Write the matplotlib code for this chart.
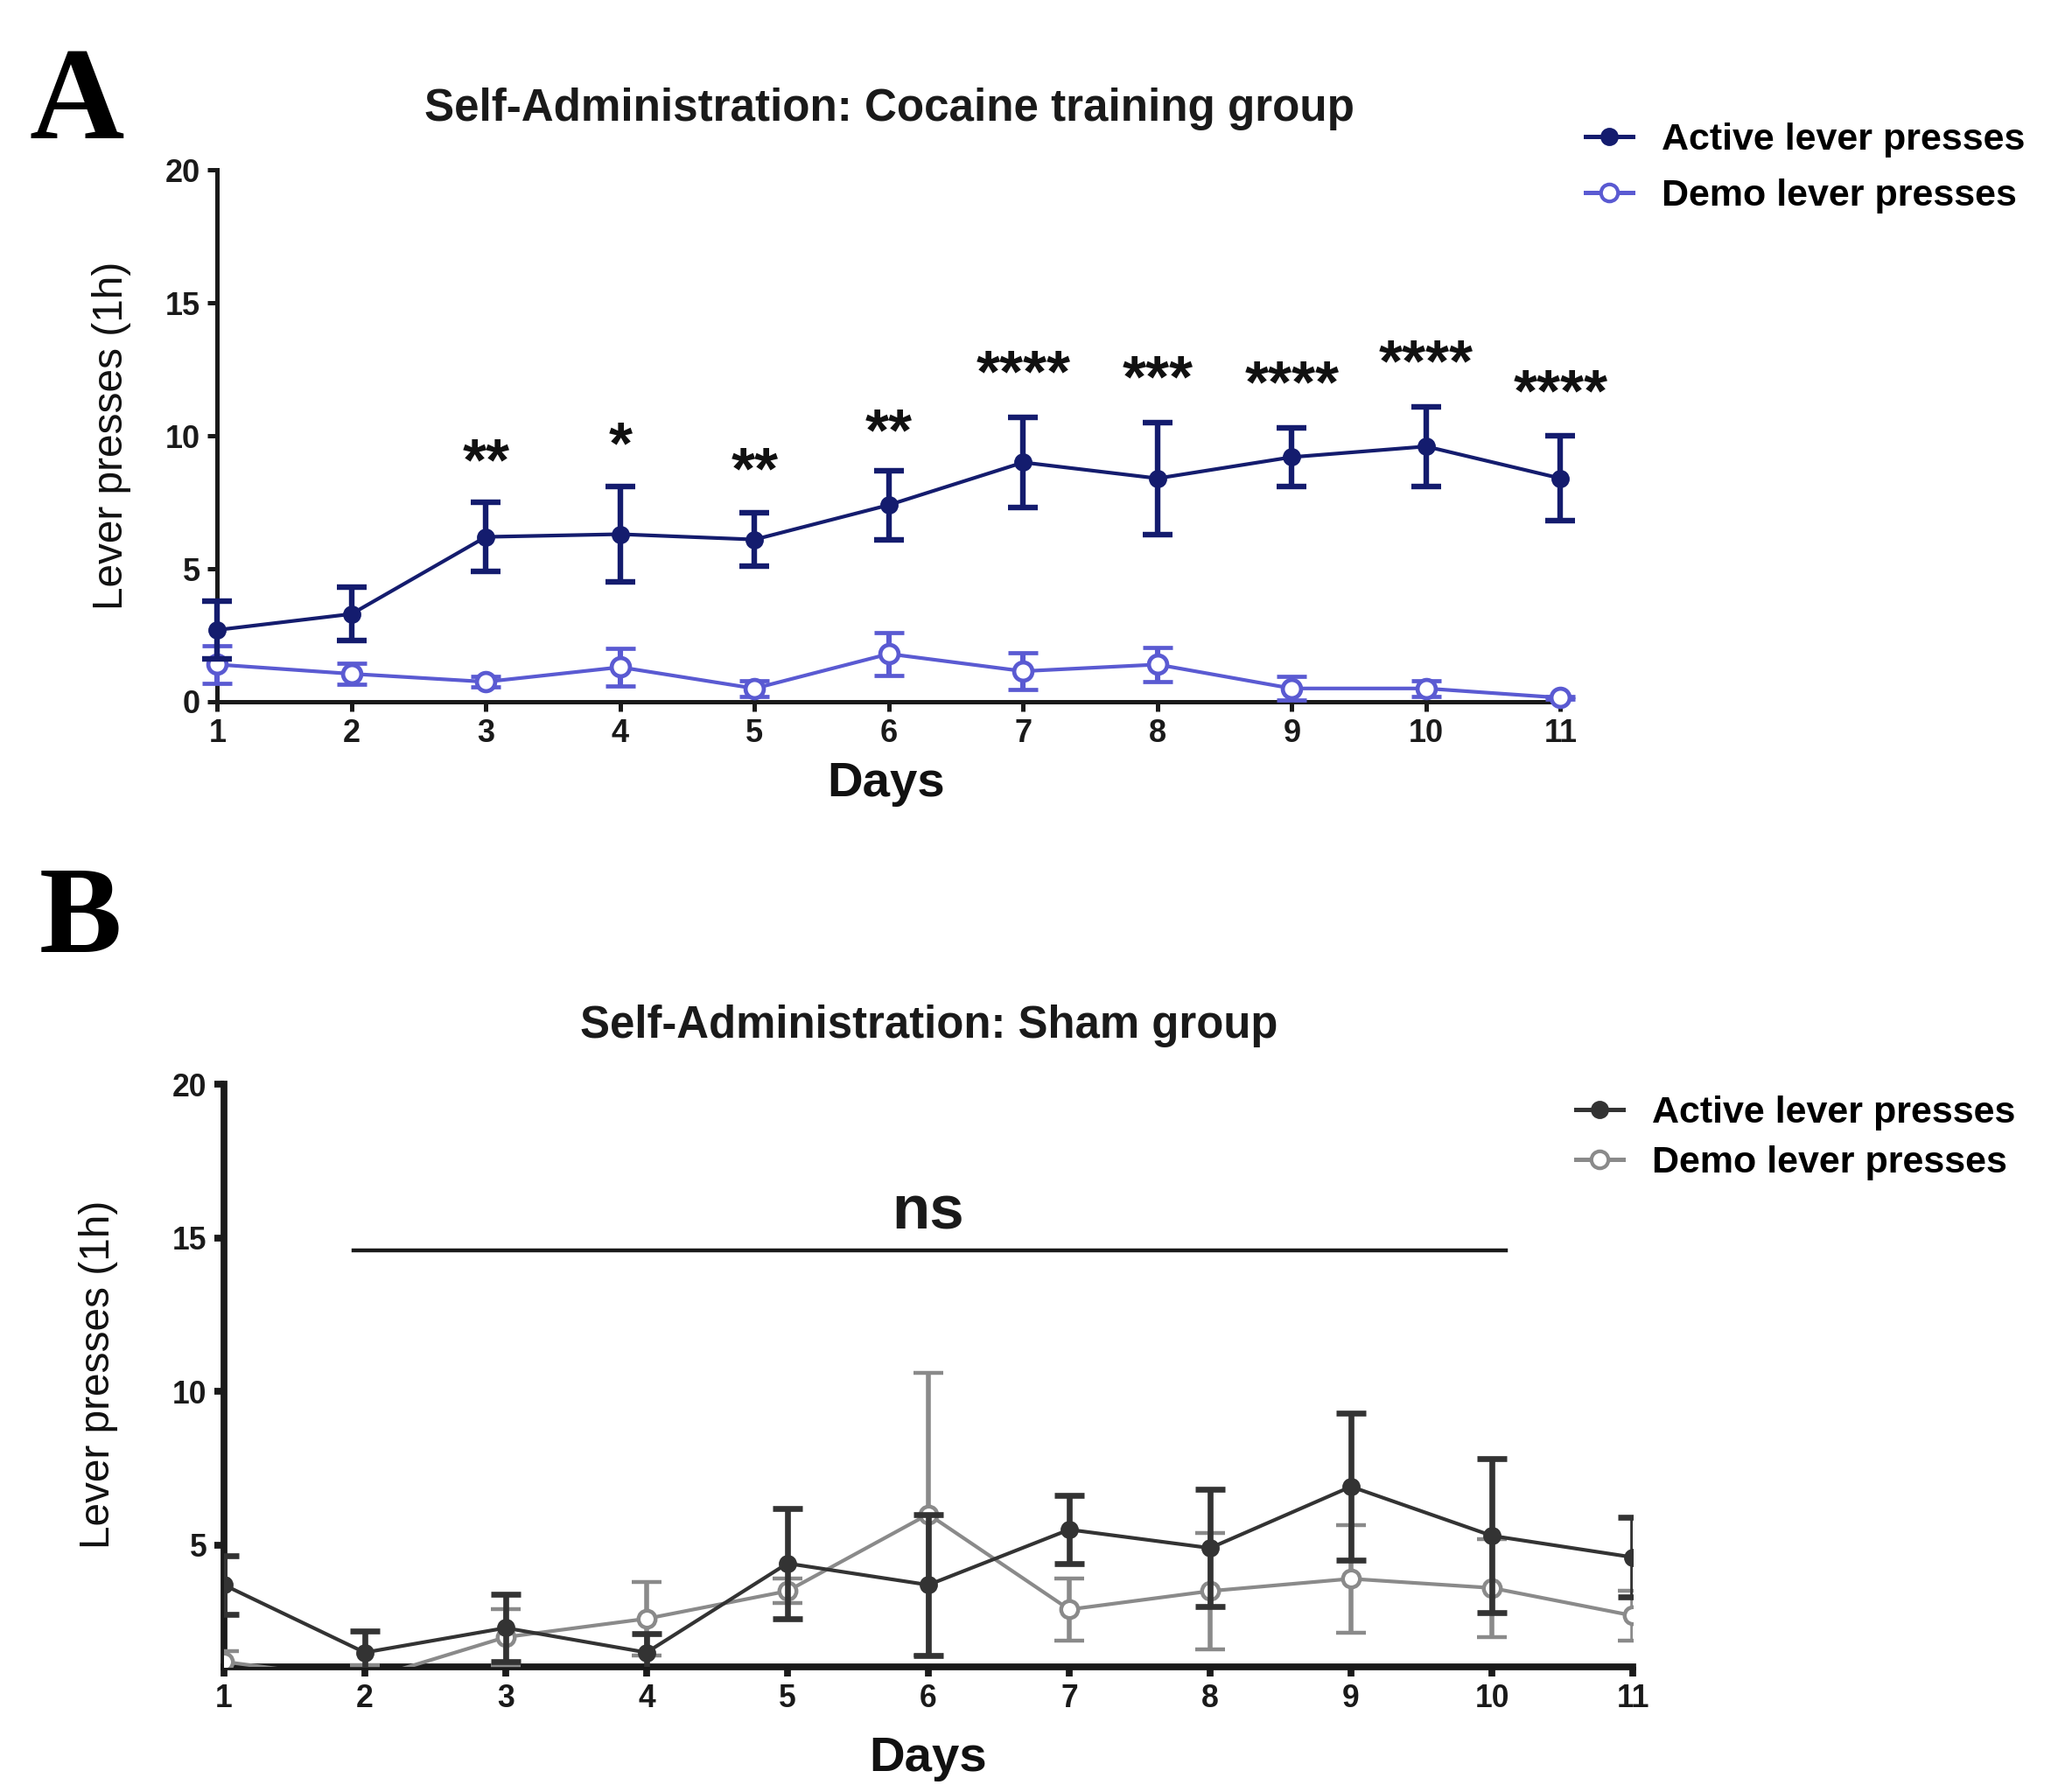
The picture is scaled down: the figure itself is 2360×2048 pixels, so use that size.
import matplotlib
matplotlib.use("Agg")
import matplotlib.pyplot as plt
from matplotlib.lines import Line2D

plt.rcParams['font.family'] = ['Liberation Sans', 'DejaVu Sans']

days = [1, 2, 3, 4, 5, 6, 7, 8, 9, 10, 11]
day_labels = ['1', '2', '3', '4', '5', '6', '7', '8', '9', '10', '11']

# Panel A: cocaine training group
a_active = [2.7, 3.3, 6.2, 6.3, 6.1, 7.4, 9.0, 8.4, 9.2, 9.6, 8.4]
a_active_err = [1.1, 1.0, 1.3, 1.8, 1.0, 1.3, 1.7, 2.1, 1.1, 1.5, 1.6]
a_demo = [1.4, 1.05, 0.75, 1.3, 0.5, 1.8, 1.15, 1.4, 0.5, 0.5, 0.15]
a_demo_err = [0.7, 0.4, 0.2, 0.7, 0.3, 0.8, 0.7, 0.65, 0.45, 0.3, 0.05]
a_stars = ['', '', '**', '*', '**', '**', '****', '***', '****', '****', '****']
a_star_y = [0, 0, 9.4, 10.0, 9.05, 10.5, 12.7, 12.5, 12.3, 13.1, 12.0]

# Panel B: sham group
b_active = [3.7, 1.5, 2.3, 1.5, 4.4, 3.7, 5.5, 4.9, 6.9, 5.3, 4.6]
b_active_err = [0.95, 0.7, 1.1, 0.6, 1.8, 2.3, 1.1, 1.9, 2.4, 2.5, 1.3]
b_demo = [1.2, 0.6, 2.0, 2.6, 3.5, 6.0, 2.9, 3.5, 3.9, 3.6, 2.7]
b_demo_err = [0.35, 0.5, 0.9, 1.2, 0.4, 4.6, 1.0, 1.9, 1.75, 1.6, 0.8]

A_NAVY = '#141c6e'
A_BLUE = '#5a5ad2'
B_DARK = '#333333'
B_GRAY = '#8a8a8a'

fig = plt.figure(figsize=(11.8, 10.24), dpi=200)

def style_axes(ax, lw, size):
    for s in ['top', 'right']:
        ax.spines[s].set_visible(False)
    for s in ['left', 'bottom']:
        ax.spines[s].set_linewidth(lw)
        ax.spines[s].set_color('#1a1a1a')
    ax.tick_params(axis='both', direction='out', length=4, width=lw, color='#1a1a1a',
                   labelsize=size, pad=3)
    for lab in ax.get_xticklabels() + ax.get_yticklabels():
        lab.set_fontweight('bold')
        lab.set_color('#1a1a1a')

# ---------------- Panel A ----------------
axA = fig.add_axes([0.1052, 0.6084, 0.6505, 0.2968])
axA.errorbar(days, a_demo, yerr=a_demo_err, color=A_BLUE, lw=1.5, marker='o',
             markersize=7.5, markerfacecolor='white', markeredgewidth=1.7,
             elinewidth=2.2, capsize=6, capthick=2.2, clip_on=False, zorder=3)
axA.errorbar(days, a_active, yerr=a_active_err, color=A_NAVY, lw=1.5, marker='o',
             markersize=6.5, elinewidth=2.3, capsize=6, capthick=2.3,
             clip_on=False, zorder=4)
axA.set_xlim(1, 11)
axA.set_ylim(0, 20)
axA.set_xticks(days)
axA.set_xticklabels(day_labels)
axA.set_yticks([0, 5, 10, 15, 20])
style_axes(axA, 1.8, 13)
for d, s, y in zip(days, a_stars, a_star_y):
    if s:
        axA.text(d, y - 0.45, s, ha='center', va='center', fontsize=25,
                 fontweight='bold', color='#111111')
axA.set_ylabel('Lever presses (1h)', fontsize=17.2, color='#111111')
axA.yaxis.set_label_coords(-0.0637, 0.50)
axA.set_xlabel('Days', fontsize=20.3, fontweight='bold', color='#111111')
axA.xaxis.set_label_coords(0.498, -0.112)

hA = [Line2D([], [], color=A_NAVY, marker='o', markersize=6.5, lw=1.8),
      Line2D([], [], color=A_BLUE, marker='o', markersize=7, markerfacecolor='white',
             markeredgewidth=1.5, lw=1.8)]
fig.legend(hA, ['Active lever presses', 'Demo lever presses'], loc='upper left',
           bbox_to_anchor=(0.768, 0.9316), frameon=False, borderpad=0,
           borderaxespad=0, handlelength=1.25, handletextpad=0.77, labelspacing=0.55,
           prop={'family': 'Liberation Sans', 'weight': 'bold', 'size': 15.5})

fig.text(0.4305, 0.939, 'Self-Administration: Cocaine training group', ha='center',
         va='center', fontsize=18.4, fontweight='bold', color='#1a1a1a')
fig.text(0.014, 0.9229, 'A', ha='left', va='baseline', fontsize=54, fontweight='bold',
         family='Liberation Serif', color='black')

# ---------------- Panel B ----------------
axB = fig.add_axes([0.1084, 0.0698, 0.6823, 0.3252])
axB.errorbar(days, b_demo, yerr=b_demo_err, color=B_GRAY, lw=1.5, marker='o',
             markersize=7, markerfacecolor='white', markeredgewidth=1.6,
             elinewidth=2.0, capsize=6, capthick=2.0, zorder=3)
axB.errorbar(days, b_active, yerr=b_active_err, color=B_DARK, lw=1.5, marker='o',
             markersize=6.5, elinewidth=2.4, capsize=6, capthick=2.4, zorder=4)
axB.set_xlim(1, 11)
axB.set_ylim(1.03, 20)
axB.set_xticks(days)
axB.set_xticklabels(day_labels)
axB.set_yticks([5, 10, 15, 20])
style_axes(axB, 2.8, 12.8)
axB.plot([1.92, 10.1], [14.6, 14.6], color='#1a1a1a', lw=1.6, clip_on=False)
axB.text(6, 15.8, 'ns', ha='center', va='center', fontsize=25.5, fontweight='bold',
         color='#1a1a1a')
axB.set_ylabel('Lever presses (1h)', fontsize=17.2, color='#111111')
axB.yaxis.set_label_coords(-0.0748, 0.502)
axB.set_xlabel('Days', fontsize=20.3, fontweight='bold', color='#111111')
axB.xaxis.set_label_coords(0.5, -0.118)

hB = [Line2D([], [], color=B_DARK, marker='o', markersize=6.5, lw=1.8),
      Line2D([], [], color=B_GRAY, marker='o', markersize=7, markerfacecolor='white',
             markeredgewidth=1.5, lw=1.8)]
fig.legend(hB, ['Active lever presses', 'Demo lever presses'], loc='upper left',
           bbox_to_anchor=(0.7633, 0.3887), frameon=False, borderpad=0,
           borderaxespad=0, handlelength=1.25, handletextpad=0.77, labelspacing=0.4,
           prop={'family': 'Liberation Sans', 'weight': 'bold', 'size': 15.5})

fig.text(0.450, 0.4277, 'Self-Administration: Sham group', ha='center', va='center',
         fontsize=18.3, fontweight='bold', color='#1a1a1a')
fig.text(0.019, 0.4687, 'B', ha='left', va='baseline', fontsize=51, fontweight='bold',
         family='Liberation Serif', color='black')

fig.savefig('out.png', dpi=200, facecolor='white')
